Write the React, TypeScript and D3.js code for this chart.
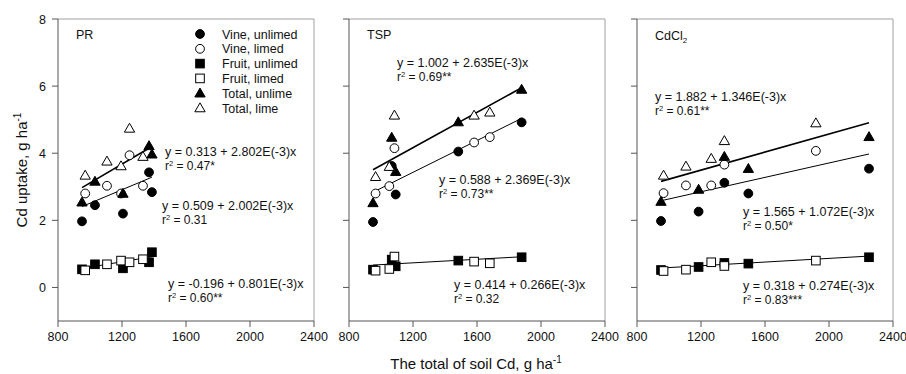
import React from 'react'
import * as d3 from 'd3'

// tick labels
const xTicks = [800, 1200, 1600, 2000, 2400]
const yTicks = [0, 2, 4, 6, 8]

// PR
const prUnlimedX = [950, 1031, 1206, 1369, 1387]
const prLimedX = [970, 1106, 1194, 1247, 1331]
const prVineUnlimed = [1.97, 2.45, 2.2, 3.43, 2.84]
const prVineLimed = [2.8, 3.03, 2.8, 3.94, 3.03]
const prFruitUnlimed = [0.54, 0.69, 0.57, 0.75, 1.05]
const prFruitLimed = [0.51, 0.69, 0.8, 0.75, 0.84]
const prTotalUnlimed = [2.54, 3.16, 2.8, 4.22, 3.97]
const prTotalLimed = [3.34, 3.76, 3.62, 4.74, 3.9]

// TSP
const tspUnlimedX = [950, 1067, 1092, 1483, 1879]
const tspLimedX = [966, 1052, 1084, 1582, 1680]
const tspVineUnlimed = [1.95, 3.62, 2.77, 4.05, 4.92]
const tspVineLimed = [2.8, 3.02, 4.15, 4.32, 4.48]
const tspFruitUnlimed = [0.53, 0.83, 0.63, 0.8, 0.9]
const tspFruitLimed = [0.5, 0.55, 0.92, 0.77, 0.72]
const tspTotalUnlimed = [2.52, 4.47, 3.45, 4.93, 5.9]
const tspTotalLimed = [3.3, 3.6, 5.13, 5.13, 5.22]

// CdCl2
const cdUnlimedX = [950, 1185, 1346, 1496, 2250]
const cdLimedX = [966, 1106, 1264, 1346, 1918]
const cdVineUnlimed = [1.98, 2.26, 3.12, 2.8, 3.54]
const cdVineLimed = [2.81, 3.04, 3.04, 3.66, 4.07]
const cdFruitUnlimed = [0.52, 0.61, 0.73, 0.71, 0.9]
const cdFruitLimed = [0.49, 0.53, 0.75, 0.64, 0.8]
const cdTotalUnlimed = [2.56, 2.92, 3.9, 3.54, 4.49]
const cdTotalLimed = [3.34, 3.61, 3.84, 4.37, 4.9]

// regressions (PR, TSP, CdCl2)
const totalFitA = [0.313, 1.002, 1.882]
const totalFitB = [2.802e-3, 2.635e-3, 1.346e-3]
const vineFitA = [0.509, 0.588, 1.565]
const vineFitB = [2.002e-3, 2.369e-3, 1.072e-3]
const fruitFitA = [-0.196, 0.414, 0.318]
const fruitFitB = [0.801e-3, 0.266e-3, 0.274e-3]
const fitXMin = [950, 950, 950]
const fitXMax = [1387, 1879, 2250]

const totalEq = ['y = 0.313 + 2.802E(-3)x', 'y = 1.002 + 2.635E(-3)x', 'y = 1.882 + 1.346E(-3)x']
const totalR2 = [' = 0.47*', ' = 0.69**', ' = 0.61**']
const vineEq = ['y = 0.509 + 2.002E(-3)x', 'y = 0.588 + 2.369E(-3)x', 'y = 1.565 + 1.072E(-3)x']
const vineR2 = [' = 0.31', ' = 0.73**', ' = 0.50*']
const fruitEq = ['y = -0.196 + 0.801E(-3)x', 'y = 0.414 + 0.266E(-3)x', 'y = 0.318 + 0.274E(-3)x']
const fruitR2 = [' = 0.60**', ' = 0.32', ' = 0.83***']

const legendLabels = ['Vine, unlimed', 'Vine, limed', 'Fruit, unlimed', 'Fruit, limed', 'Total, unlime', 'Total, lime']

const panels = [
  {
    ux: prUnlimedX, lx: prLimedX,
    series: [prVineUnlimed, prVineLimed, prFruitUnlimed, prFruitLimed, prTotalUnlimed, prTotalLimed],
  },
  {
    ux: tspUnlimedX, lx: tspLimedX,
    series: [tspVineUnlimed, tspVineLimed, tspFruitUnlimed, tspFruitLimed, tspTotalUnlimed, tspTotalLimed],
  },
  {
    ux: cdUnlimedX, lx: cdLimedX,
    series: [cdVineUnlimed, cdVineLimed, cdFruitUnlimed, cdFruitLimed, cdTotalUnlimed, cdTotalLimed],
  },
]

// layout
const W = 906
const H = 374
const panelLeft = [58, 349, 637]
const panelW = 256
const top = 19
const bottom = 321
const font = "'Liberation Sans', Arial, sans-serif"

// label positions: [total, vine, fruit] -> [x, baseline]
const eqPos = [
  [[165, 156], [162, 210], [168, 288]],
  [[397, 67], [439, 184], [454, 289]],
  [[655, 101], [743, 216], [743, 290]],
]

const shapes = ['circle', 'circle', 'square', 'square', 'triangle', 'triangle']
const filled = [true, false, true, false, true, false]

const Marker = ({ shape, fill, x, y }: { shape: string; fill: boolean; x: number; y: number }) => {
  const f = fill ? '#000' : '#fff'
  if (shape === 'circle') return <circle cx={x} cy={y} r={4.4} fill={f} stroke="#000" strokeWidth={1} />
  if (shape === 'square') return <rect x={x - 4.3} y={y - 4.3} width={8.6} height={8.6} fill={f} stroke="#000" strokeWidth={1} />
  const tri = d3.symbol().type(d3.symbolTriangle).size(46)()
  return <path d={tri as string} transform={`translate(${x},${y + 0.8})`} fill={f} stroke="#000" strokeWidth={1} />
}

const R2 = ({ x, y, text }: { x: number; y: number; text: string }) => (
  <text x={x} y={y} fontSize={12}>
    r<tspan dy={-4.5} fontSize={7.5}>2</tspan>
    <tspan dy={4.5}>{text}</tspan>
  </text>
)

const Panel = ({ i }: { i: number }) => {
  const p = panels[i]
  const left = panelLeft[i]
  const x = d3.scaleLinear().domain([800, 2400]).range([left, left + panelW])
  const y = d3.scaleLinear().domain([-1, 8]).range([bottom, top])
  const fits = [
    [totalFitA[i], totalFitB[i], 1.6],
    [vineFitA[i], vineFitB[i], 1],
    [fruitFitA[i], fruitFitB[i], 1],
  ]
  const eqs = [
    [totalEq[i], totalR2[i]],
    [vineEq[i], vineR2[i]],
    [fruitEq[i], fruitR2[i]],
  ]
  return (
    <g>
      {/* frame */}
      <line x1={left} x2={left + panelW} y1={top} y2={top} stroke="#a0a0a0" />
      <line x1={left + panelW} x2={left + panelW} y1={top} y2={bottom} stroke="#a0a0a0" />
      <line x1={left} x2={left} y1={top} y2={bottom} stroke="#555" />
      <line x1={left} x2={left + panelW} y1={bottom} y2={bottom} stroke="#555" />
      {yTicks.map((t) => (
        <g key={t}>
          <line x1={left - 6} x2={left} y1={y(t)} y2={y(t)} stroke="#555" />
          {i === 0 && (
            <text x={left - 12} y={y(t) + 4.5} textAnchor="end" fontSize={12.5}>{t}</text>
          )}
        </g>
      ))}
      {xTicks.map((t) => (
        <g key={t}>
          <line x1={x(t)} x2={x(t)} y1={bottom} y2={bottom + 6} stroke="#555" />
          <text x={x(t)} y={bottom + 20} textAnchor="middle" fontSize={12.5}>{t}</text>
        </g>
      ))}
      {/* regression lines */}
      {fits.map(([a, b, sw], k) => {
        const xs = [fitXMin[i], fitXMax[i]]
        const ln = d3.line<number>().x((v) => x(v)).y((v) => y(a + b * v))
        return <path key={k} d={ln(xs) as string} fill="none" stroke="#000" strokeWidth={sw} />
      })}
      {/* points */}
      {p.series.map((vals, s) =>
        vals.map((v, k) => {
          const xv = s % 2 === 0 ? p.ux[k] : p.lx[k]
          return <Marker key={`${s}-${k}`} shape={shapes[s]} fill={filled[s]} x={x(xv)} y={y(v)} />
        })
      )}
      {/* equations */}
      {eqs.map(([eq, r2], k) => (
        <g key={k}>
          <text x={eqPos[i][k][0]} y={eqPos[i][k][1]} fontSize={12.5}>{eq}</text>
          <R2 x={eqPos[i][k][0]} y={eqPos[i][k][1] + 14} text={r2} />
        </g>
      ))}
      {/* panel title */}
      {i === 0 && <text x={left + 18} y={39} fontSize={12.5}>PR</text>}
      {i === 1 && <text x={left + 18} y={39} fontSize={12.5}>TSP</text>}
      {i === 2 && (
        <text x={left + 18} y={40} fontSize={12.5}>
          CdCl<tspan dy={3} fontSize={8}>2</tspan>
        </text>
      )}
    </g>
  )
}

const App = () => {
  const rowY = (k: number) => 34 + k * 14.8
  return (
    <svg width={W} height={H} style={{ position: 'absolute', left: 0, top: 0, background: '#fff' }} fontFamily={font} fill="#111">
      <rect width={W} height={H} fill="#fff" />
      {[0, 1, 2].map((i) => <Panel key={i} i={i} />)}
      {/* legend */}
      {legendLabels.map((lab, k) => (
        <g key={lab}>
          <Marker shape={shapes[k]} fill={filled[k]} x={200} y={rowY(k)} />
          <text x={222} y={rowY(k) + 4.5} fontSize={12.5} fill="#111">{lab}</text>
        </g>
      ))}
      {/* axis titles */}
      <text x={476} y={369} textAnchor="middle" fontSize={15}>
        The total of soil Cd, g ha<tspan dy={-6} fontSize={10}>-1</tspan>
      </text>
      <text transform="translate(27,170) rotate(-90)" textAnchor="middle" fontSize={15}>
        Cd uptake, g ha<tspan dy={-6} fontSize={10}>-1</tspan>
      </text>
    </svg>
  )
}

export default App
